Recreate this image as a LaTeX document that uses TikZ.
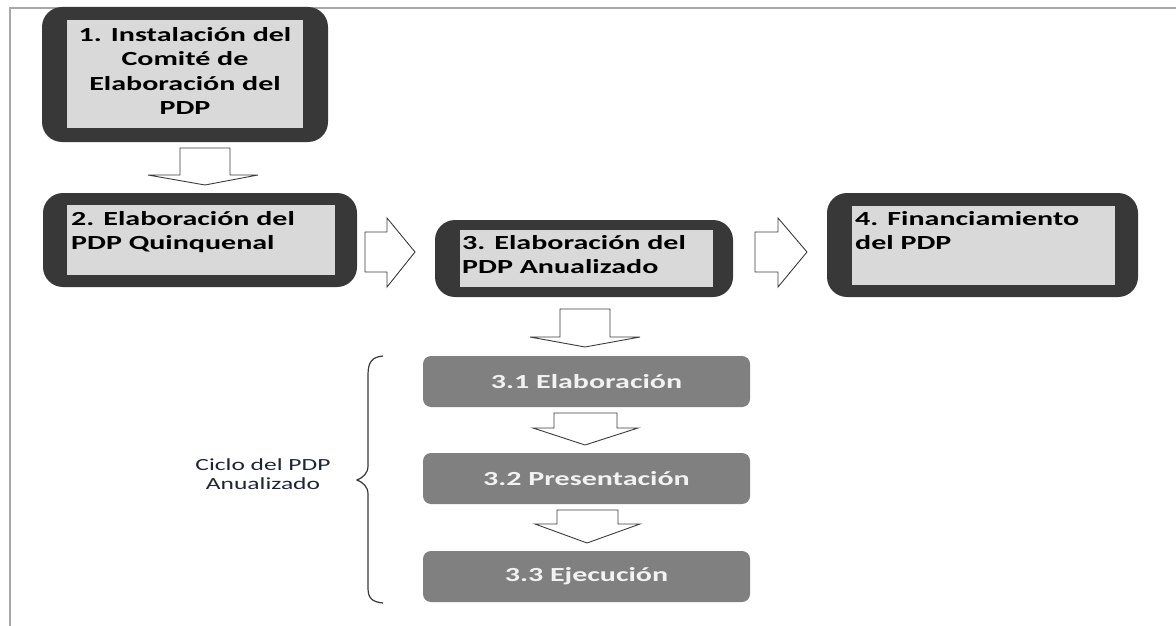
\documentclass[tikz,border=0pt]{standalone}
\usepackage{fontspec}
\setmainfont{Carlito}[FakeStretch=1.5]
\definecolor{darkbox}{HTML}{383838}
\definecolor{lightbox}{HTML}{D9D9D9}
\definecolor{subbox}{HTML}{808080}
\definecolor{framegray}{HTML}{A8A8A8}
\definecolor{arrowgray}{HTML}{3C3C3C}
\definecolor{labeltext}{HTML}{1E2433}
\begin{document}
\begin{tikzpicture}[x=1pt,y=-1pt,
  outerbox/.style={fill=darkbox, rounded corners=20pt, inner sep=0pt, minimum width=#1},
  innerbox/.style={fill=lightbox, inner sep=0pt},
  maintext/.style={font=\bfseries\fontsize{20}{24.5}\selectfont, text=black, inner sep=0pt},
  subnode/.style={fill=subbox, rounded corners=8pt, minimum width=327pt, minimum height=51pt, inner sep=0pt,
    font=\bfseries\fontsize{20}{24}\selectfont, text=white!95!black},
  blockarrow/.style={draw=arrowgray, fill=white, line width=0.9pt, line join=miter},
  bracestyle/.style={draw=darkbox, line width=1.2pt},
  framestyle/.style={draw=framegray, line width=2.5pt}]
\useasboundingbox (0,0) rectangle (1176,626);
% frame
\draw[framestyle] (10,626) -- (10,8) -- (1176,8);

% box 1
\node[outerbox=286pt, minimum height=135pt] (b1) at (185,74.5) {};
\node[innerbox, minimum width=236pt, minimum height=108pt] (b1i) at (185,74) {};
\node[maintext, align=center] (t1) at (185,71) {1. Instalación del\\Comité de\\Elaboración del\\PDP};

% box 2
\node[outerbox=314pt, minimum height=94pt] (b2) at (200,240) {};
\node[innerbox, minimum width=268pt, minimum height=70pt] (b2i) at (201,240) {};
\node[maintext, align=left, anchor=north west] (t2) at (71,211) {2. Elaboración del\\PDP Quinquenal};

% box 3
\node[outerbox=298pt, minimum height=77pt] (b3) at (584,258.5) {};
\node[innerbox, minimum width=253pt, minimum height=57pt] (b3i) at (586.5,258.5) {};
\node[maintext, align=left, anchor=north west] (t3) at (462,235) {3. Elaboración del\\PDP Anualizado};

% box 4
\node[outerbox=311pt, minimum height=104pt] (b4) at (982.5,245) {};
\node[innerbox, minimum width=263pt, minimum height=79pt] (b4i) at (983.5,245.5) {};
\node[maintext, align=left, anchor=north west] (t4) at (855,211) {4. Financiamiento\\del PDP};

% sub boxes
\node[subnode] (s1) at (586.5,381.5) {3.1 Elaboración};
\node[subnode] (s2) at (586.5,478.5) {3.2 Presentación};
\node[subnode] (s3) at (586.5,576.5) {3.3 Ejecución};

% cycle label
\node[font=\fontsize{17}{19}\selectfont, text=labeltext, align=center, inner sep=0pt] (cl) at (263,474) {Ciclo del PDP\\Anualizado};

% block arrows
\draw[blockarrow] (180,148) -- (230,148) -- (230,175) -- (258,175) -- (205,185) -- (148,175) -- (180,175) -- cycle;
\draw[blockarrow] (365,232) -- (387,232) -- (387,218) -- (415,252) -- (387,287) -- (387,272) -- (365,272) -- cycle;
\draw[blockarrow] (755,232) -- (778,232) -- (778,218) -- (807,252) -- (778,287) -- (778,272) -- (755,272) -- cycle;
\draw[blockarrow] (560,309) -- (610,309) -- (610,337) -- (640,337) -- (585,347) -- (530,337) -- (560,337) -- cycle;
\draw[blockarrow] (554,413) -- (617,413) -- (617,428) -- (638,428) -- (585,445) -- (533,428) -- (554,428) -- cycle;
\draw[blockarrow] (557,510) -- (618,510) -- (618,524) -- (640,524) -- (587,543) -- (535,524) -- (557,524) -- cycle;

% brace
\draw[bracestyle] (383,356) .. controls (372,357) and (368,362) .. (368,375) -- (368,466)
  .. controls (368,474) and (362,478) .. (357,480)
  .. controls (362,482) and (368,486) .. (368,494) -- (368,588)
  .. controls (368,598) and (372,602) .. (383,603);
\end{tikzpicture}
\end{document}
